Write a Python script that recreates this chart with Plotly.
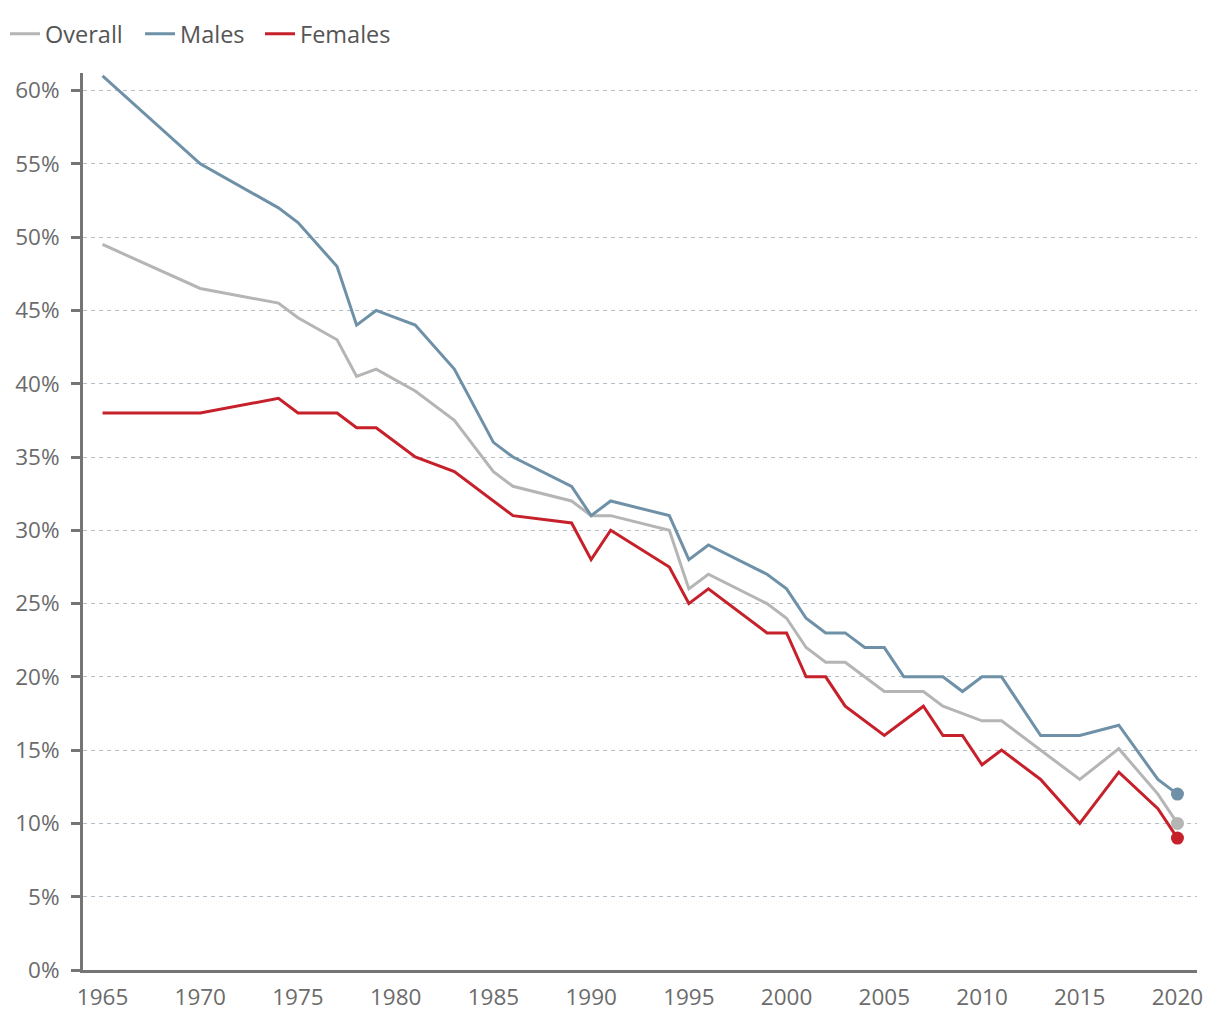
import plotly.graph_objects as go

years_overall = [1965, 1970, 1974, 1975, 1977, 1978, 1979, 1981, 1983, 1985, 1986, 1989, 1990, 1991, 1994, 1995, 1996, 1999, 2000, 2001, 2002, 2003, 2005, 2007, 2008, 2010, 2011, 2015, 2017, 2019, 2020]
overall = [49.5, 46.5, 45.5, 44.5, 43, 40.5, 41, 39.5, 37.5, 34, 33, 32, 31, 31, 30, 26, 27, 25, 24, 22, 21, 21, 19, 19, 18, 17, 17, 13, 15.1, 12, 10]

years_males = [1965, 1970, 1974, 1975, 1977, 1978, 1979, 1981, 1983, 1985, 1986, 1989, 1990, 1991, 1994, 1995, 1996, 1999, 2000, 2001, 2002, 2003, 2004, 2005, 2006, 2008, 2009, 2010, 2011, 2013, 2015, 2017, 2019, 2020]
males = [61, 55, 52, 51, 48, 44, 45, 44, 41, 36, 35, 33, 31, 32, 31, 28, 29, 27, 26, 24, 23, 23, 22, 22, 20, 20, 19, 20, 20, 16, 16, 16.7, 13, 12]

years_females = [1965, 1970, 1974, 1975, 1977, 1978, 1979, 1981, 1983, 1986, 1989, 1990, 1991, 1994, 1995, 1996, 1999, 2000, 2001, 2002, 2003, 2005, 2007, 2008, 2009, 2010, 2011, 2013, 2015, 2017, 2019, 2020]
females = [38, 38, 39, 38, 38, 37, 37, 35, 34, 31, 30.5, 28, 30, 27.5, 25, 26, 23, 23, 20, 20, 18, 16, 18, 16, 16, 14, 15, 13, 10, 13.5, 11, 9]

series_names = ["Overall", "Males", "Females"]
colors = ["#b5b5b5", "#6f91a8", "#c6202b"]
y_ticks = [0, 5, 10, 15, 20, 25, 30, 35, 40, 45, 50, 55, 60]
x_ticks = [1965, 1970, 1975, 1980, 1985, 1990, 1995, 2000, 2005, 2010, 2015, 2020]

font_family = "Open Sans, Noto Sans, sans-serif"
legend_ids = ["legend", "legend2", "legend3"]
legend_x = [-0.0700, 0.0512, 0.1589]

fig = go.Figure()
data = [(years_overall, overall), (years_males, males), (years_females, females)]
for (xs, ys), name, col, lid in zip(data, series_names, colors, legend_ids):
    fig.add_trace(go.Scatter(x=xs, y=ys, mode="lines", name=name, legend=lid,
                             line=dict(color=col, width=3)))
# end markers
for (xs, ys), name, col in zip(data, series_names, colors):
    fig.add_trace(go.Scatter(x=[xs[-1]], y=[ys[-1]], mode="markers", showlegend=False,
                             marker=dict(color=col, size=13), name=name))

legend_style = dict(orientation="h", xanchor="left", y=1.0435, yanchor="middle",
                    font=dict(family=font_family, size=23.5, color="#555555"),
                    itemwidth=30, bgcolor="rgba(0,0,0,0)")

tick_font = dict(family=font_family, size=22.5, color="#6b6b6b")
fig.update_layout(
    width=1212, height=1012,
    margin=dict(l=75, r=23, t=65, b=50, autoexpand=False),
    plot_bgcolor="white", paper_bgcolor="white",
    font=dict(family=font_family, size=22, color="#6b6b6b"),
    showlegend=True,
    legend=dict(x=legend_x[0], **legend_style),
    legend2=dict(x=legend_x[1], **legend_style),
    legend3=dict(x=legend_x[2], **legend_style),
    xaxis=dict(range=[1964, 2021], tickmode="array", tickvals=x_ticks,
               ticktext=[str(v) for v in x_ticks],
               showgrid=False, zeroline=False, showline=True, linecolor="#757575",
               linewidth=3, ticks="", ticklabelstandoff=5, tickfont=tick_font),
    yaxis=dict(range=[0, 61.2], tickmode="array", tickvals=y_ticks,
               ticktext=[f"{v}%" for v in y_ticks],
               showgrid=True, gridcolor="#b3bec6", griddash="4px,4px", gridwidth=1.3,
               zeroline=False, showline=True, linecolor="#757575", linewidth=3,
               ticks="outside", ticklen=9, tickwidth=3, tickcolor="#757575",
               ticklabelstandoff=7, tickfont=tick_font),
)

fig.write_html("out.html")
